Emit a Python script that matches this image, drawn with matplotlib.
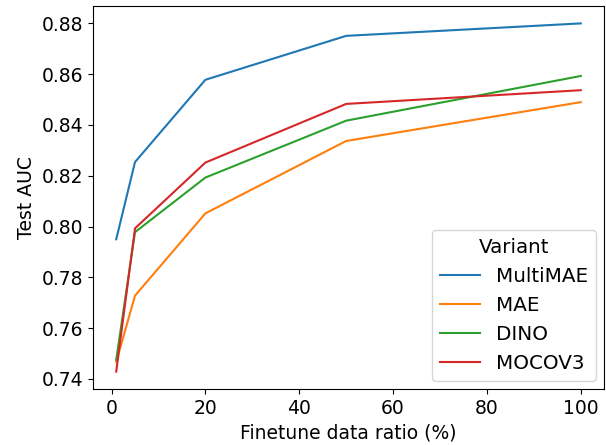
import matplotlib
matplotlib.use("Agg")
import matplotlib.pyplot as plt

ratios = [1, 5, 20, 50, 100]
multimae = [0.795, 0.8254, 0.8578, 0.8751, 0.8800]
mae = [0.7467, 0.7728, 0.8052, 0.8337, 0.8490]
dino = [0.7475, 0.7978, 0.8193, 0.8417, 0.8593]
mocov3 = [0.7429, 0.7993, 0.8252, 0.8483, 0.8537]
series = {"MultiMAE": multimae, "MAE": mae, "DINO": dino, "MOCOV3": mocov3}
colors = ["#1f77b4", "#ff7f0e", "#2ca02c", "#d62728"]

plt.rcParams["font.size"] = 13.5
fig = plt.figure(figsize=(6.06, 4.45), dpi=100)
ax = fig.add_axes([93 / 606, 56 / 445, 511 / 606, 383 / 445])
for (name, vals), c in zip(series.items(), colors):
    ax.plot(ratios, vals, color=c, label=name, linewidth=1.5)
ax.set_xlabel("Finetune data ratio (%)")
ax.set_ylabel("Test AUC")
ax.set_xticks([0, 20, 40, 60, 80, 100])
ax.set_yticks([0.74, 0.76, 0.78, 0.80, 0.82, 0.84, 0.86, 0.88])
ax.legend(title="Variant", loc="lower right", fontsize=14.3, title_fontsize=14.3,
          borderaxespad=0.4)
fig.savefig("out.png", dpi=100)
